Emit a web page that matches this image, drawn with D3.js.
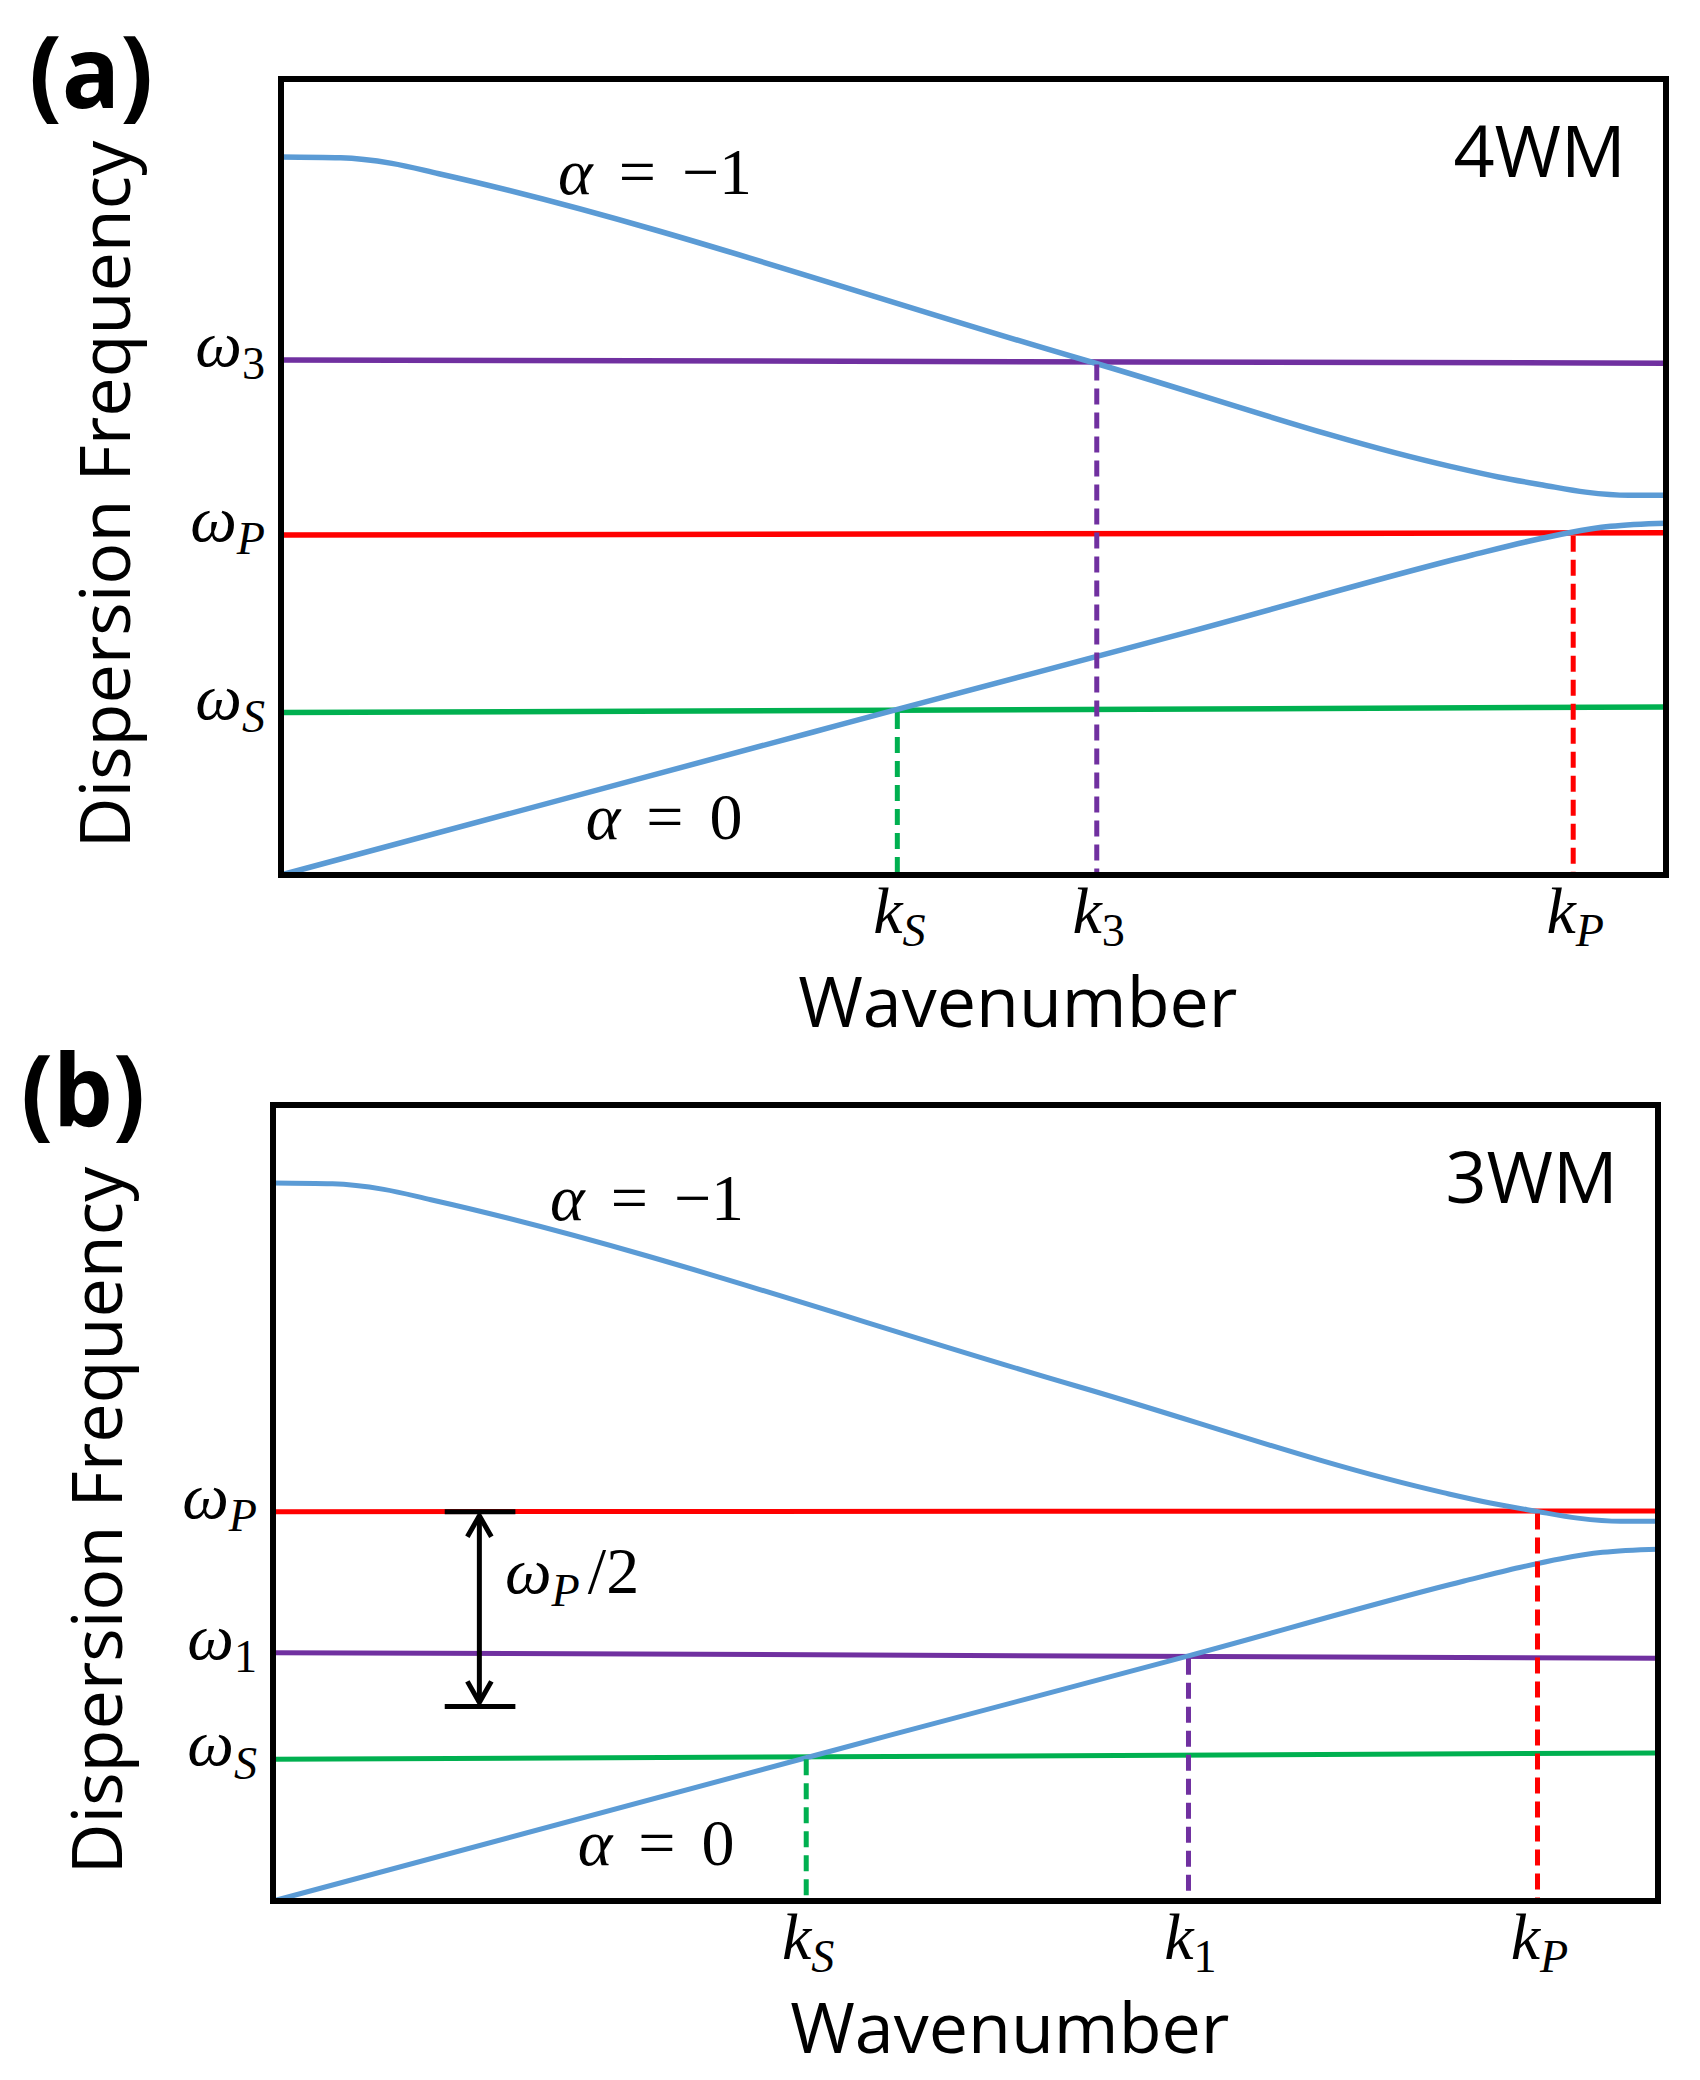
<!DOCTYPE html>
<html lang="en">
<head>
<meta charset="UTF-8">
<title>Dispersion diagrams 4WM / 3WM</title>
<script src="https://d3js.org/d3.v7.min.js"></script>
<style>
  body { margin: 0; background: #fff; }
  .math { font-family: "Liberation Serif", "DejaVu Serif", serif; }
  .sans { font-family: "Open Sans", "Noto Sans", sans-serif; }
</style>
</head>
<body>
<svg id="chart"></svg>
<script>
// both branches, k and omega given in % of the plot box
const upperK = [0, 4.3, 8.0, 11.4, 58.0, 84.5, 87.9, 91.1, 94.2, 97.3, 100];
const upperW = [90.2, 90.1, 89.4, 88.1, 64.7, 51.3, 50.0, 49.0, 48.1, 47.7, 47.7];
const lowerK = [0, 38.5, 44.5, 66.1, 86.0, 90.0, 93.0, 96.0, 100];
const lowerW = [0, 18.0, 20.8, 30.8, 40.2, 41.9, 43.0, 43.8, 44.2];

// panel (a), 4WM
const modesA = ["3", "P", "S"];
const levelLeftA = [64.7, 42.7, 20.4];
const levelRightA = [64.3, 43.0, 21.1];
const crossA = [58.9, 93.3, 44.5];

// panel (b), 3WM
const modesB = ["P", "1", "S"];
const levelLeftB = [48.9, 31.2, 17.8];
const levelRightB = [49.0, 30.5, 18.6];
const crossB = [91.3, 66.1, 38.5];

// omega_P/2 marker in (b)
const halfArrowK = 14.9;
const halfBarK = [12.4, 17.5];

const modeColor = { "P": "#FF0000", "S": "#00B050", "3": "#7030A0", "1": "#7030A0" };
const blue = "#5B9BD5";
const mathSize = 66;

const svg = d3.select("#chart").attr("width", 1700).attr("height", 2080);
svg.append("rect").attr("width", 1700).attr("height", 2080).attr("fill", "#fff");

function subLabel(t, base, sub, size) {
    t.append("tspan").attr("font-style", "italic").text(base);
    t.append("tspan")
     .attr("font-size", size * 0.7)
     .attr("dy", size * 0.2)
     .attr("font-style", /\d/.test(sub) ? "normal" : "italic")
     .text(sub);
}

function drawPanel(box, p) {
    const x = d3.scaleLinear().domain([0, 100]).range([box.x, box.x + box.w]);
    const y = d3.scaleLinear().domain([0, 100]).range([box.y + box.h, box.y]);
    const g = svg.append("g");
    const levelAt = (i, k) => p.left[i] + (p.right[i] - p.left[i]) * k / 100;

    // horizontal mode frequencies
    p.modes.forEach((m, i) => {
        g.append("line")
         .attr("x1", x(0)).attr("x2", x(100))
         .attr("y1", y(p.left[i])).attr("y2", y(p.right[i]))
         .attr("stroke", modeColor[m])
         .attr("stroke-width", p.lw);
    });

    // dispersion branches
    const line = d3.line().x(d => x(d[0])).y(d => y(d[1])).curve(d3.curveMonotoneX);
    [d3.zip(upperK, upperW), d3.zip(lowerK, lowerW)].forEach(pts => {
        g.append("path")
         .attr("d", line(pts))
         .attr("fill", "none")
         .attr("stroke", blue)
         .attr("stroke-width", p.lw);
    });

    // dashed drops to the k axis
    p.modes.forEach((m, i) => {
        g.append("line")
         .attr("x1", x(p.cross[i])).attr("x2", x(p.cross[i]))
         .attr("y1", y(levelAt(i, p.cross[i])) + p.lw / 2).attr("y2", y(0))
         .attr("stroke", modeColor[m])
         .attr("stroke-width", 5)
         .attr("stroke-dasharray", "16,8");
    });

    // omega tick labels
    p.modes.forEach((m, i) => {
        const t = g.append("text").attr("class", "math")
                   .attr("x", box.x - 16).attr("y", y(p.left[i]) + 6)
                   .attr("font-size", mathSize)
                   .attr("text-anchor", "end");
        subLabel(t, "ω", m, mathSize);
    });

    // k tick labels
    p.modes.forEach((m, i) => {
        const t = g.append("text").attr("class", "math")
                   .attr("x", x(p.cross[i]) + 2).attr("y", box.y + box.h + 58)
                   .attr("font-size", mathSize)
                   .attr("text-anchor", "middle");
        subLabel(t, "k", m, mathSize);
    });

    // branch labels
    [["−1", 20, 85.5], ["0", 22, 4.5]].forEach(([v, k, w]) => {
        const t = g.append("text").attr("class", "math")
                   .attr("x", x(k)).attr("y", y(w))
                   .attr("font-size", mathSize);
        t.append("tspan").attr("font-style", "italic").text("α");
        t.append("tspan").attr("dx", 26).text("=");
        t.append("tspan").attr("dx", 26).text(v);
    });

    // mode tag
    g.append("text").attr("class", "sans")
     .attr("x", x(97.1)).attr("y", y(87.7))
     .attr("font-size", 72)
     .attr("text-anchor", "end")
     .text(p.name);

    // axis titles
    g.append("text").attr("class", "sans")
     .attr("x", x(53.2)).attr("y", box.y + box.h + 152)
     .attr("font-size", 70)
     .attr("text-anchor", "middle")
     .text("Wavenumber");

    g.append("text").attr("class", "sans")
     .attr("transform", `translate(${box.x - 151},${y(47.8)}) rotate(-90)`)
     .attr("font-size", 70)
     .attr("text-anchor", "middle")
     .text("Dispersion Frequency");

    // panel letter
    g.append("text").attr("class", "sans")
     .attr("x", box.x - 252).attr("y", Math.max(box.y + 22, 108))
     .attr("font-size", 100)
     .attr("font-weight", "bold")
     .attr("textLength", 124)
     .attr("lengthAdjust", "spacingAndGlyphs")
     .text(p.tag);

    if (p.half) {
        const wP = p.left[0];
        const ax = x(halfArrowK), y1 = y(wP), y2 = y(wP / 2);
        const a = g.append("g").attr("stroke", "#000").attr("stroke-width", 5).attr("fill", "none");
        a.append("line").attr("x1", x(halfBarK[0])).attr("x2", x(halfBarK[1])).attr("y1", y1).attr("y2", y1);
        a.append("line").attr("x1", x(halfBarK[0])).attr("x2", x(halfBarK[1])).attr("y1", y2).attr("y2", y2);
        a.append("line").attr("x1", ax).attr("x2", ax).attr("y1", y1 + 4).attr("y2", y2 - 4);
        a.append("path").attr("d", `M${ax - 12},${y1 + 25}L${ax},${y1 + 4}L${ax + 12},${y1 + 25}`);
        a.append("path").attr("d", `M${ax - 12},${y2 - 25}L${ax},${y2 - 4}L${ax + 12},${y2 - 25}`);

        const t = g.append("text").attr("class", "math")
                   .attr("x", x(16.75)).attr("y", y(38.7))
                   .attr("font-size", mathSize);
        subLabel(t, "ω", "P", mathSize);
        t.append("tspan").attr("dy", -mathSize * 0.2).attr("dx", 8).text("/2");
    }

    // frame
    g.append("rect")
     .attr("x", box.x).attr("y", box.y)
     .attr("width", box.w).attr("height", box.h)
     .attr("fill", "none")
     .attr("stroke", "#000")
     .attr("stroke-width", 6);
}

drawPanel({ x: 281, y: 79, w: 1385, h: 796 },
          { tag: "(a)", name: "4WM", modes: modesA, left: levelLeftA, right: levelRightA, cross: crossA, lw: 5.5 });
drawPanel({ x: 273, y: 1105, w: 1385, h: 796 },
          { tag: "(b)", name: "3WM", modes: modesB, left: levelLeftB, right: levelRightB, cross: crossB, lw: 5, half: true });
</script>
</body>
</html>
